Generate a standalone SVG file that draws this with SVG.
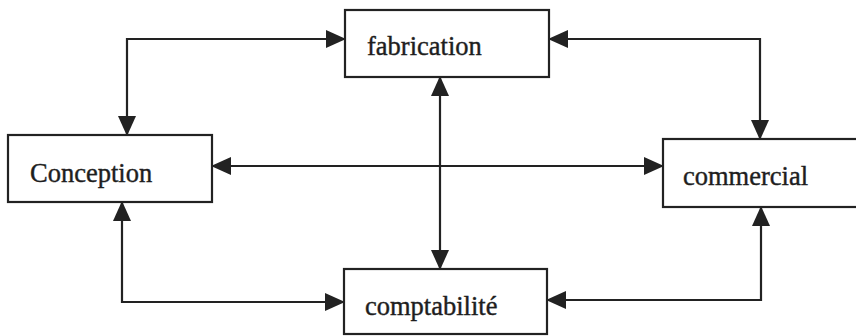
<svg xmlns="http://www.w3.org/2000/svg" width="856" height="336" viewBox="0 0 856 336">
<style>
.box{fill:#fff;stroke:#222;stroke-width:2.2}
.lbl{font-family:"Liberation Serif","Times New Roman",serif;font-size:26.5px;fill:#1e1e1e;stroke:#1e1e1e;stroke-width:0.4}
.con{fill:none;stroke:#222;stroke-width:2.2;marker-start:url(#ah);marker-end:url(#ah)}
</style>
<defs>
<marker id="ah" viewBox="0 0 20 18" refX="19" refY="9" markerWidth="20" markerHeight="18" markerUnits="userSpaceOnUse" orient="auto-start-reverse">
<path d="M0,0 L20,9 L0,18 z" fill="#222"/>
</marker>
</defs>
<rect width="856" height="336" fill="#fff"/>
<g id="connectors">
<path class="con" d="M345,39 H127 V135"/>
<path class="con" d="M549,39 H760 V139"/>
<path class="con" d="M212,166 H663"/>
<path class="con" d="M440,77 V269"/>
<path class="con" d="M122,202 V302 H344"/>
<path class="con" d="M761,207 V300 H547"/>
</g>
<g id="fabrication">
<rect class="box" x="345" y="10" width="204" height="67"/>
<text class="lbl" x="367" y="55">fabrication</text>
</g>
<g id="conception">
<rect class="box" x="8" y="135" width="204" height="67"/>
<text class="lbl" x="30" y="182">Conception</text>
</g>
<g id="commercial">
<rect class="box" x="663" y="139" width="200" height="68"/>
<text class="lbl" x="683" y="185">commercial</text>
</g>
<g id="comptabilite">
<rect class="box" x="344" y="269" width="203" height="65"/>
<text class="lbl" x="365" y="315">comptabilité</text>
</g>
</svg>
